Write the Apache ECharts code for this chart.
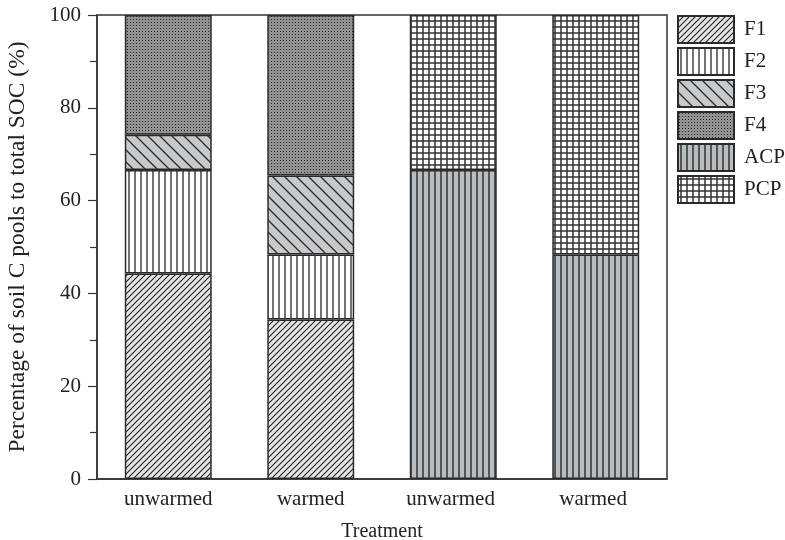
<!DOCTYPE html>
<html>
<head>
<meta charset="utf-8">
<script src="https://cdn.jsdelivr.net/npm/echarts@6/dist/echarts.min.js"></script>
<style>
  html, body { margin: 0; padding: 0; background: #fff; }
  #main { width: 785px; height: 540px; }
</style>
</head>
<body>
<div id="main"></div>
<script>
var categories = ['unwarmed', 'warmed', 'unwarmed ', 'warmed '];
var seriesNames = ['F1', 'F2', 'F3', 'F4', 'ACP', 'PCP'];
var f1 = [44.3, 34.4, '-', '-'];
var f2 = [22.3, 14.0, '-', '-'];
var f3 = [7.6, 17.0, '-', '-'];
var f4 = [25.8, 34.6, '-', '-'];
var acp = ['-', '-', 66.6, 48.4];
var pcp = ['-', '-', 33.4, 51.6];

// build small repeating canvas tiles for the hatch fills
function makePattern(w, h, bg, draw) {
  var c = document.createElement('canvas');
  c.width = w;
  c.height = h;
  var ctx = c.getContext('2d');
  ctx.fillStyle = bg;
  ctx.fillRect(0, 0, w, h);
  ctx.strokeStyle = '#2a2a2a';
  ctx.fillStyle = '#2a2a2a';
  draw(ctx, w, h);
  return { image: c, repeat: 'repeat' };
}

var fills = {
  F1: makePattern(6, 6, '#e6e6e6', function (ctx, w, h) {
    ctx.lineWidth = 1.2;
    ctx.beginPath();
    ctx.moveTo(-1, h + 1); ctx.lineTo(w + 1, -1);
    ctx.moveTo(-1, 1); ctx.lineTo(1, -1);
    ctx.moveTo(w - 1, h + 1); ctx.lineTo(w + 1, h - 1);
    ctx.stroke();
  }),
  F2: makePattern(6, 6, '#ffffff', function (ctx, w, h) {
    ctx.strokeStyle = '#444';
    ctx.lineWidth = 1.5;
    ctx.beginPath();
    ctx.moveTo(3, 0); ctx.lineTo(3, h);
    ctx.stroke();
  }),
  F3: makePattern(12, 12, '#c8c9cb', function (ctx, w, h) {
    ctx.lineWidth = 1.3;
    ctx.beginPath();
    ctx.moveTo(-1, -1); ctx.lineTo(w + 1, h + 1);
    ctx.moveTo(w - 1, -1); ctx.lineTo(w + 1, 1);
    ctx.moveTo(-1, h - 1); ctx.lineTo(1, h + 1);
    ctx.stroke();
  }),
  F4: makePattern(3, 3, '#929292', function (ctx) {
    ctx.fillRect(1, 1, 1, 1);
  }),
  ACP: makePattern(6, 6, '#b9bdbf', function (ctx, w, h) {
    ctx.strokeStyle = '#3a3a3a';
    ctx.lineWidth = 1.6;
    ctx.beginPath();
    ctx.moveTo(3, 0); ctx.lineTo(3, h);
    ctx.stroke();
  }),
  PCP: makePattern(6, 6, '#ffffff', function (ctx, w, h) {
    ctx.strokeStyle = '#333';
    ctx.lineWidth = 1.5;
    ctx.beginPath();
    ctx.moveTo(3, 0); ctx.lineTo(3, h);
    ctx.moveTo(0, 3); ctx.lineTo(w, 3);
    ctx.stroke();
  })
};

var values = [f1, f2, f3, f4, acp, pcp];
var font = 'Liberation Serif';

var series = seriesNames.map(function (name, i) {
  return {
    name: name,
    type: 'bar',
    stack: 'total',
    barWidth: '61%',
    data: values[i],
    itemStyle: {
      color: fills[name],
      borderColor: '#2a2a2a',
      borderWidth: 1.5
    },
    emphasis: { disabled: true }
  };
});

var myChart = echarts.init(document.getElementById('main'));
myChart.setOption({
  animation: false,
  grid: {
    left: 97, right: 118, top: 15, bottom: 61,
    outerBoundsMode: 'none',
    containLabel: false,
    show: true,
    borderColor: '#333',
    borderWidth: 1.5
  },
  legend: {
    data: seriesNames,
    icon: 'rect',
    orient: 'vertical',
    left: 677,
    top: 15,
    padding: 0,
    itemWidth: 56,
    itemHeight: 27,
    itemGap: 3,
    textStyle: { fontFamily: font, fontSize: 21, color: '#222', padding: [0, 0, 0, 5] }
  },
  xAxis: {
    type: 'category',
    data: categories,
    name: 'Treatment',
    nameLocation: 'middle',
    nameGap: 43,
    nameTextStyle: { fontFamily: font, fontSize: 20, color: '#222' },
    axisLine: { lineStyle: { color: '#333', width: 1.5 } },
    axisTick: { show: false },
    axisLabel: { fontFamily: font, fontSize: 21, color: '#222', margin: 10 }
  },
  yAxis: {
    type: 'value',
    min: 0,
    max: 100,
    interval: 20,
    name: 'Percentage of soil C pools to total SOC (%)',
    nameLocation: 'middle',
    nameGap: 67,
    nameTextStyle: { fontFamily: font, fontSize: 23.5, color: '#222' },
    axisLine: { show: true, lineStyle: { color: '#333', width: 1.5 } },
    axisTick: { show: true, length: 9, lineStyle: { color: '#333', width: 1.2 } },
    minorTick: { show: true, splitNumber: 2, length: 7, lineStyle: { color: '#333', width: 1.2 } },
    splitLine: { show: false },
    axisLabel: { fontFamily: font, fontSize: 21, color: '#222', margin: 16 }
  },
  series: series
});
</script>
</body>
</html>
